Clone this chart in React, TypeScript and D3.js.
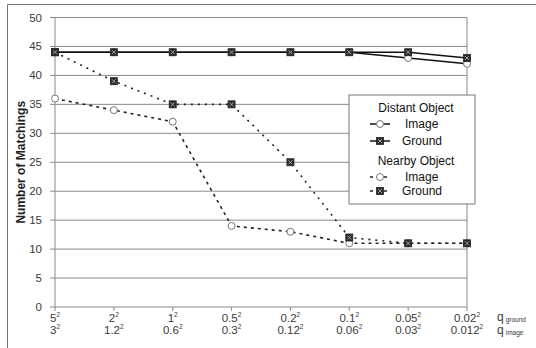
import * as d3 from "d3";

// x positions: q_ground / q_image pairs
const groundQ = ["5", "2", "1", "0.5", "0.2", "0.1", "0.05", "0.02"];
const imageQ = ["3", "1.2", "0.6", "0.3", "0.12", "0.06", "0.03", "0.012"];

const distantImage = [44, 44, 44, 44, 44, 44, 43, 42];
const distantGround = [44, 44, 44, 44, 44, 44, 44, 43];
const nearbyImage = [36, 34, 32, 14, 13, 11, 11, 11];
const nearbyGround = [44, 39, 35, 35, 25, 12, 11, 11];

const yTicks = [0, 5, 10, 15, 20, 25, 30, 35, 40, 45, 50];

const W = 536;
const H = 348;
const margin = { top: 17.5, right: 69, bottom: 41, left: 55 };
const font = "'Liberation Sans', Arial, sans-serif";
const gridColor = "#8a8a8a";
const textColor = "#3a3a3a";

function Circle({ x, y }: { x: number; y: number }) {
  return <circle cx={x} cy={y} r={3.5} fill="#fff" stroke="#777" strokeWidth={1} />;
}

function Square({ x, y }: { x: number; y: number }) {
  const s = 3.5;
  return (
    <g>
      <rect x={x - s} y={y - s} width={2 * s} height={2 * s} fill="#2a2a2a" stroke="#222" strokeWidth={0.8} />
      <path
        d={`M${x - 2},${y - 2}L${x + 2},${y + 2}M${x - 2},${y + 2}L${x + 2},${y - 2}`}
        stroke="#bbb"
        strokeWidth={0.8}
      />
    </g>
  );
}

export default function App() {
  const innerW = W - margin.left - margin.right;
  const x = d3
    .scalePoint<number>()
    .domain(d3.range(groundQ.length))
    .range([margin.left, margin.left + innerW]);
  const y = d3.scaleLinear().domain([0, 50]).range([H - margin.bottom, margin.top]);

  const line = d3
    .line<number>()
    .x((_d, i) => x(i) as number)
    .y((d) => y(d));

  const legend = { x: 349, y: 95, w: 126, h: 109 };
  const symX = 370;
  const labX = 402;

  return (
    <svg
      width={W}
      height={H}
      style={{ position: "absolute", left: 0, top: 0, background: "#fff" }}
      fontFamily={font}
    >
      {/* outer frame (only top and left edges are in view) */}
      <path d={`M7.5,${H}V4.5H${W}`} fill="none" stroke="#777" strokeWidth={1} />

      {/* grid */}
      {yTicks.slice(1).map((t) => (
        <line
          key={t}
          x1={margin.left}
          x2={margin.left + innerW}
          y1={y(t)}
          y2={y(t)}
          stroke={gridColor}
          strokeWidth={1}
        />
      ))}
      <line
        x1={margin.left + innerW}
        x2={margin.left + innerW}
        y1={y(50)}
        y2={y(0)}
        stroke={gridColor}
        strokeWidth={1}
      />

      {/* axes */}
      <line x1={margin.left} x2={margin.left} y1={y(50)} y2={y(0)} stroke={gridColor} strokeWidth={1} />
      <line
        x1={margin.left}
        x2={margin.left + innerW}
        y1={y(0)}
        y2={y(0)}
        stroke={gridColor}
        strokeWidth={1}
      />
      {yTicks.map((t) => (
        <g key={t}>
          <line x1={margin.left - 5} x2={margin.left} y1={y(t)} y2={y(t)} stroke={gridColor} />
          <text
            x={margin.left - 13}
            y={y(t)}
            dy="0.35em"
            textAnchor="end"
            fontSize={11.5}
            fill={textColor}
          >
            {t}
          </text>
        </g>
      ))}
      {groundQ.map((g, i) => (
        <g key={g}>
          <line
            x1={x(i) as number}
            x2={x(i) as number}
            y1={y(0)}
            y2={y(0) + 4}
            stroke={gridColor}
          />
          <text x={x(i) as number} y={y(0) + 15} textAnchor="middle" fontSize={11.5} fill={textColor}>
            {g}
            <tspan dy={-5} fontSize={6.5}>
              2
            </tspan>
          </text>
          <text x={x(i) as number} y={y(0) + 27} textAnchor="middle" fontSize={11.5} fill={textColor}>
            {imageQ[i]}
            <tspan dy={-5} fontSize={6.5}>
              2
            </tspan>
          </text>
        </g>
      ))}
      <text x={497} y={y(0) + 14} fontSize={12} fill={textColor}>
        q
        <tspan dx={2} dy={1} fontSize={6.5}>
          ground
        </tspan>
      </text>
      <text x={497} y={y(0) + 27} fontSize={12} fill={textColor}>
        q
        <tspan dx={2} dy={1} fontSize={6.5}>
          image
        </tspan>
      </text>

      <text
        transform={`translate(25,${(y(0) + y(50)) / 2}) rotate(-90)`}
        textAnchor="middle"
        fontSize={12}
        fontWeight="bold"
        fill="#222"
      >
        Number of Matchings
      </text>

      {/* series */}
      <path d={line(nearbyImage) ?? ""} fill="none" stroke="#222" strokeWidth={1.6} strokeDasharray="3,4" />
      <path d={line(nearbyGround) ?? ""} fill="none" stroke="#222" strokeWidth={1.6} strokeDasharray="2,5" />
      <path d={line(distantImage) ?? ""} fill="none" stroke="#111" strokeWidth={1.4} />
      <path d={line(distantGround) ?? ""} fill="none" stroke="#111" strokeWidth={1.4} />
      {nearbyImage.map((v, i) => (
        <Circle key={"ni" + i} x={x(i) as number} y={y(v)} />
      ))}
      {nearbyGround.map((v, i) => (
        <Square key={"ng" + i} x={x(i) as number} y={y(v)} />
      ))}
      {distantImage.map((v, i) => (
        <Circle key={"di" + i} x={x(i) as number} y={y(v)} />
      ))}
      {distantGround.map((v, i) => (
        <Square key={"dg" + i} x={x(i) as number} y={y(v)} />
      ))}

      {/* legend */}
      <rect
        x={legend.x}
        y={legend.y}
        width={legend.w}
        height={legend.h}
        fill="#fff"
        stroke="#777"
        strokeWidth={1}
      />
      <g fontSize={12} fill="#111">
        <text x={416} y={112} textAnchor="middle">
          Distant Object
        </text>
        <line x1={symX} x2={symX + 20} y1={124} y2={124} stroke="#111" strokeWidth={1.5} />
        <Circle x={symX + 10} y={124} />
        <text x={labX + 3} y={128}>
          Image
        </text>
        <line x1={symX} x2={symX + 20} y1={141} y2={141} stroke="#111" strokeWidth={1.5} />
        <Square x={symX + 10} y={141} />
        <text x={labX} y={145}>
          Ground
        </text>
        <text x={416} y={165} textAnchor="middle">
          Nearby Object
        </text>
        <line
          x1={symX}
          x2={symX + 20}
          y1={177}
          y2={177}
          stroke="#222"
          strokeWidth={1.6}
          strokeDasharray="3,4"
        />
        <Circle x={symX + 10} y={177} />
        <text x={labX + 3} y={181}>
          Image
        </text>
        <line
          x1={symX}
          x2={symX + 20}
          y1={191}
          y2={191}
          stroke="#222"
          strokeWidth={1.6}
          strokeDasharray="3,4"
        />
        <Square x={symX + 10} y={191} />
        <text x={labX} y={195}>
          Ground
        </text>
      </g>
    </svg>
  );
}
